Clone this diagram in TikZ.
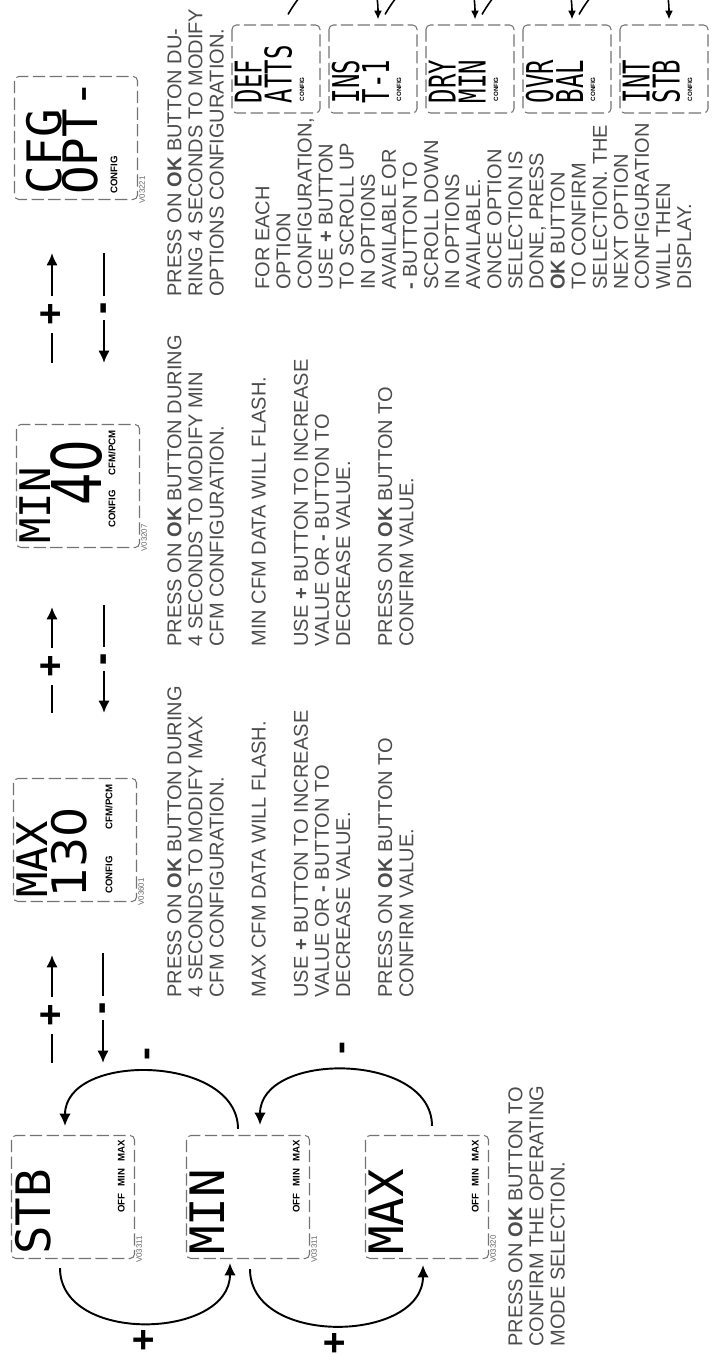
\documentclass[tikz,border=0pt]{standalone}
\usepackage{fontspec}
\setmainfont{Liberation Sans}
\newfontfamily\lcdfont{DejaVu Sans Mono}
\newfontfamily\lcddigits{DejaVu Sans}
\usetikzlibrary{positioning}
\usetikzlibrary{calc}
\usetikzlibrary{arrows.meta}
\tikzset{>={Latex[length=7pt,width=6.5pt]}}
\tikzset{lcdbox/.style={draw=black!55, line width=0.6pt, dash pattern=on 7pt off 2.5pt, rounded corners=2.5pt, minimum width=24.6mm, minimum height=24.6mm, inner sep=0pt}}
\tikzset{optbox/.style={lcdbox, minimum width=17.6mm, minimum height=17.6mm}}
\tikzset{lcd/.style={font=\lcdfont\fontsize{27}{27}\selectfont, inner sep=0pt, anchor=north west}}
\tikzset{lcdopt/.style={font=\lcdfont\fontsize{21}{17}\selectfont, inner sep=0pt, anchor=north west, align=left, xscale=0.65}}
\tikzset{tag/.style={font=\bfseries\fontsize{5.5}{6}\selectfont, inner sep=0pt}}
\tikzset{code/.style={font=\fontsize{4.5}{5}\selectfont, text=black!60, inner sep=0pt, anchor=north west}}
\tikzset{body/.style={font=\fontsize{11.4}{12}\selectfont, text=black!70, align=left, inner sep=0pt, anchor=north west}}
\tikzset{flow/.style={->, line width=1.3pt}}
\tikzset{optflow/.style={-{Latex[length=5pt,width=4.5pt]}, line width=0.9pt}}
\tikzset{sign/.style={font=\bfseries\fontsize{22}{22}\selectfont, fill=white, inner ysep=0pt, inner xsep=4pt}}
\tikzset{minus/.style={sign, font=\bfseries\fontsize{26}{26}\selectfont, xscale=0.8, yshift=-2.5pt}}
\tikzset{arcsign/.style={font=\bfseries\fontsize{22}{22}\selectfont, inner sep=0pt}}

\begin{document}
\begin{tikzpicture}[rotate=90, transform shape, x=0.2mm, y=0.2mm]
  \useasboundingbox (0,-714) rectangle (1354,0);

  % operating mode screens
  \node[lcdbox] (stb) at (157,-73) {};
  \node[lcdbox] (min) at (157,-248) {};
  \node[lcdbox] (max) at (157,-427) {};
  \foreach \s/\t/\c in {stb/STB/V03311, min/MIN/V03311, max/MAX/V03320} {
    \node[lcd] (\s disp) at ($(\s.north west)+(4,-4)$) {\t};
    \node[tag, anchor=south east] (\s mode) at ($(\s.south east)+(-5,10)$) {OFF\hspace{4pt}MIN\hspace{4pt}MAX};
    \node[code] (\s code) at ($(\s.south west)+(-4,-1)$) {\c};
  }

  % configuration screens
  \node[lcdbox] (maxcfm) at (514,-75) {};
  \node[lcdbox] (mincfm) at (868,-78) {};
  \node[lcdbox] (cfgopt) at (1216,-76) {};

  \node[lcd, font=\lcdfont\fontsize{24}{24}\selectfont] (maxrow) at ($(maxcfm.north west)+(4,-3)$) {MAX};
  \node[lcd, font=\lcddigits\fontsize{27}{27}\selectfont] (maxval) at ($(maxcfm.north west)+(4,-38)$) {130};
  \node[tag, anchor=west] (maxtag) at ($(maxcfm.north west)+(8,-96)$) {CONFIG};
  \node[tag, anchor=east] (maxunit) at ($(maxcfm.north east)+(-6,-96)$) {CFM/PCM};
  \node[code] (maxcode) at ($(maxcfm.south west)+(-4,-1)$) {V03601};

  \node[lcd, font=\lcdfont\fontsize{24}{24}\selectfont] (minrow) at ($(mincfm.north west)+(4,-3)$) {MIN};
  \node[lcd, font=\lcddigits\fontsize{39}{39}\selectfont, xscale=0.75, anchor=north east] (minval) at ($(mincfm.north east)+(-16,-34)$) {40};
  \node[tag, anchor=west] (mintag) at ($(mincfm.north west)+(20,-96)$) {CONFIG};
  \node[tag, anchor=east] (minunit) at ($(mincfm.north east)+(-6,-96)$) {CFM/PCM};
  \node[code] (mincode) at ($(mincfm.south west)+(-4,-1)$) {V03207};

  \node[lcd] (cfgrow) at ($(cfgopt.north west)+(5,-12)$) {CFG};
  \node[lcd] (optrow) at ($(cfgopt.north west)+(5,-48)$) {OPT-};
  \node[tag, anchor=west] (cfgtag) at ($(cfgopt.north west)+(6,-100)$) {CONFIG};
  \node[code] (cfgcode) at ($(cfgopt.south west)+(-4,-1)$) {V03221};

  % flow between screens
  \draw[flow] ($(stb.east)+(72,21)$) -- node[sign, pos=0.44]{+} ($(maxcfm.west)+(-53,23)$);
  \draw[flow] ($(maxcfm.west)+(-51,-28)$) -- node[minus]{-} ($(stb.east)+(72,-30)$);
  \draw[flow] ($(maxcfm.east)+(65,23)$) -- node[sign, pos=0.44]{+} ($(mincfm.west)+(-59,26)$);
  \draw[flow] ($(mincfm.west)+(-57,-26)$) -- node[minus]{-} ($(maxcfm.east)+(65,-29)$);
  \draw[flow] ($(mincfm.east)+(61,26)$) -- node[sign, pos=0.44]{+} ($(cfgopt.west)+(-53,24)$);
  \draw[flow] ($(cfgopt.west)+(-53,-28)$) -- node[minus]{-} ($(mincfm.east)+(61,-26)$);

  % mode selection loops
  \draw[flow, line width=1.1pt] ($(stb.west)+(-9,13)$) to[out=180,in=180,looseness=1.15] node[arcsign,left=3pt]{+} ($(min.west)+(-4,18)$);
  \draw[flow, line width=1.1pt] ($(min.west)+(-10,-2)$) to[out=180,in=180,looseness=1.15] node[arcsign,left=3pt]{+} ($(max.west)+(-6,4)$);
  \draw[flow, line width=1.1pt] ($(min.east)+(6,10)$) to[out=0,in=0,looseness=1.1] node[arcsign,right=6pt]{-} ($(stb.east)+(9,8)$);
  \draw[flow, line width=1.1pt] ($(max.east)+(9,-5)$) to[out=0,in=0,looseness=1.1] node[arcsign,right=8pt]{-} ($(min.east)+(10,-12)$);

  % option screens
  \foreach \i/\ra/\rb in {1/DEF/ATTS, 2/INS/T-1, 3/DRY/MIN, 4/OVR/BAL, 5/INT/STB} {
    \node[optbox] (ob\i) at (1285,{-276-97*(\i-1)}) {};
    \node[lcdopt] (ob\i disp) at ($(ob\i.north west)+(10,-3)$) {\ra\\\rb};
    \node[tag, font=\bfseries\fontsize{3.5}{4}\selectfont, anchor=north west] (ob\i tag) at ($(ob\i.north west)+(12,-68)$) {CONFIG};
  }
  \begin{scope}
    \clip (0,-714) rectangle (1354,0);
    \foreach \i/\j in {1/2, 2/3, 3/4, 4/5}
      \draw[optflow] ($(ob\i.east)+(10,-12)$) to[out=-30,in=0,looseness=2] ($(ob\j.east)+(5,-5)$);
  \end{scope}

  % instructions
  \node[body] (modetext) at (7,-508) {PRESS ON \textbf{OK} BUTTON TO\\CONFIRM THE OPERATING\\MODE SELECTION.};
  \node[body] (maxtext) at (356,-167) {PRESS ON \textbf{OK} BUTTON DURING\\4 SECONDS TO MODIFY MAX\\CFM CONFIGURATION.\\[12pt]MAX CFM DATA WILL FLASH.\\[12pt]USE \textbf{+} BUTTON TO INCREASE\\VALUE OR \textbf{-} BUTTON TO\\DECREASE VALUE.\\[12pt]PRESS ON \textbf{OK} BUTTON TO\\CONFIRM VALUE.};
  \node[body] (mintext) at (707,-167) {PRESS ON \textbf{OK} BUTTON DURING\\4 SECONDS TO MODIFY MIN\\CFM CONFIGURATION.\\[12pt]MIN CFM DATA WILL FLASH.\\[12pt]USE \textbf{+} BUTTON TO INCREASE\\VALUE OR \textbf{-} BUTTON TO\\DECREASE VALUE.\\[12pt]PRESS ON \textbf{OK} BUTTON TO\\CONFIRM VALUE.};
  \node[body] (cfgtext) at (1057,-167) {PRESS ON \textbf{OK} BUTTON DU-\\RING 4 SECONDS TO MODIFY\\OPTIONS CONFIGURATION.};
  \node[body] (opttext) at (1064,-255) {FOR EACH\\OPTION\\CONFIGURATION,\\USE \textbf{+} BUTTON\\TO SCROLL UP\\IN OPTIONS\\AVAILABLE OR\\\textbf{-} BUTTON TO\\SCROLL DOWN\\IN OPTIONS\\AVAILABLE.\\ONCE OPTION\\SELECTION IS\\DONE, PRESS\\\textbf{OK} BUTTON\\TO CONFIRM\\SELECTION. THE\\NEXT OPTION\\CONFIGURATION\\WILL THEN\\DISPLAY.};
\end{tikzpicture}
\end{document}
